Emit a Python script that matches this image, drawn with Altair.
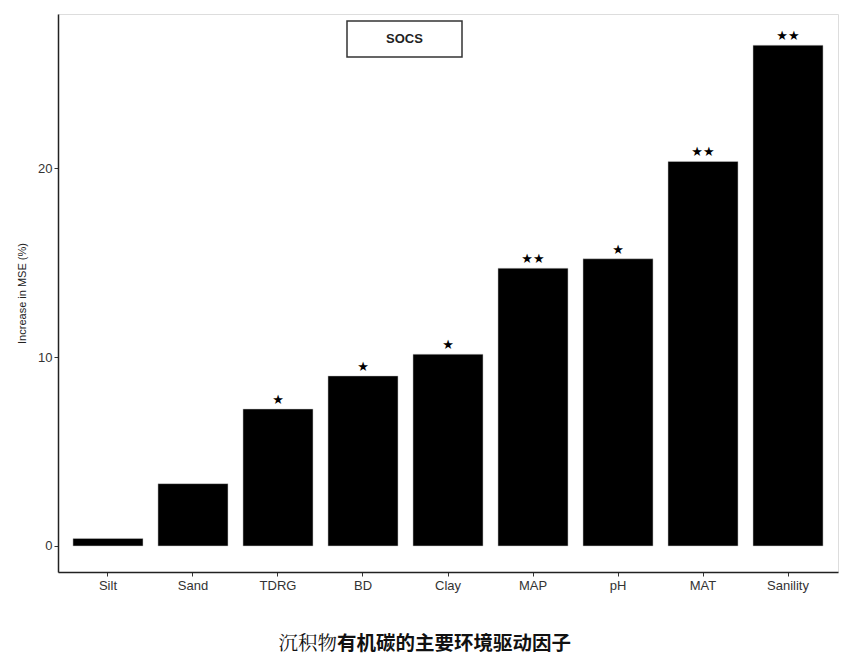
import altair as alt
import pandas as pd

factors = ["Silt", "Sand", "TDRG", "BD", "Clay", "MAP", "pH", "MAT", "Sanility"]
values = [0.4, 3.3, 7.25, 9.0, 10.15, 14.7, 15.2, 20.35, 26.5]
signif = ["", "", "★", "★", "★", "★★", "★", "★★", "★★"]
panel_label = "SOCS"
caption_a = "沉积物"
caption_b = "有机碳的主要环境驱动因子"

df = pd.DataFrame({"factor": factors, "value": values, "sig": signif})

W, H = 780, 558

x_enc = alt.X("factor:N", sort=factors, title=None,
              scale=alt.Scale(paddingInner=0.176, paddingOuter=0.176),
              axis=alt.Axis(labelAngle=0, labelFontSize=13, labelColor="#333",
                            labelFont="Liberation Sans", tickSize=4, tickColor="#333",
                            labelPadding=3, domain=True, domainColor="#222",
                            domainWidth=1.5))
y_scale = alt.Scale(domain=[-1.376, 28.15], nice=False, zero=False)

bars = alt.Chart(df).mark_bar(color="black", stroke="#cccccc", strokeWidth=0.5).encode(
    x=x_enc,
    y=alt.Y("value:Q", scale=y_scale, title="Increase in MSE (%)",
            axis=alt.Axis(values=[0, 10, 20], grid=False, labelFontSize=13,
                          labelColor="#333", labelFont="Liberation Sans",
                          tickSize=4, tickColor="#333", domain=True,
                          domainColor="#222", domainWidth=1.5,
                          titleFontSize=11, titleFontWeight="normal",
                          titleFont="Liberation Sans", titleColor="#222",
                          titlePadding=10)),
    y2=alt.datum(0),
)

stars = alt.Chart(df).mark_text(baseline="bottom", dy=-2, fontSize=13,
                                font="DejaVu Sans", color="black").encode(
    x=alt.X("factor:N", sort=factors),
    y=alt.Y("value:Q", scale=y_scale),
    text="sig:N",
)

box = alt.Chart(pd.DataFrame({"t": [panel_label]})).mark_rect(
    fill="white", stroke="#333", strokeWidth=1.5).encode(
    x=alt.value(289), x2=alt.value(404), y=alt.value(7), y2=alt.value(43))

box_text = alt.Chart(pd.DataFrame({"t": [panel_label]})).mark_text(
    fontSize=13, fontWeight="bold", font="Liberation Sans", color="#222",
    baseline="middle", align="center").encode(
    x=alt.value(346.5), y=alt.value(25), text="t:N")

cap_a = alt.Chart(pd.DataFrame({"t": [caption_a]})).mark_text(
    fontSize=19.5, font="Noto Serif CJK SC, Noto Sans CJK SC", fontWeight="normal",
    color="#111", align="right", baseline="middle").encode(
    x=alt.value(279), y=alt.value(630), text="t:N")

cap_b = alt.Chart(pd.DataFrame({"t": [caption_b]})).mark_text(
    fontSize=19.5, font="Noto Sans CJK SC", fontWeight="bold",
    color="#111", align="left", baseline="middle").encode(
    x=alt.value(279), y=alt.value(630), text="t:N")

chart = alt.layer(bars, stars, box, box_text, cap_a, cap_b).properties(
    width=W, height=H,
    autosize=alt.AutoSizeParams(type="none"),
    padding={"left": 50, "top": 6, "right": 5, "bottom": 89},
).configure_view(stroke="#444", strokeWidth=1.2).configure(background="white")

chart.save("out.html", embed_options={"renderer": "svg", "actions": False})
